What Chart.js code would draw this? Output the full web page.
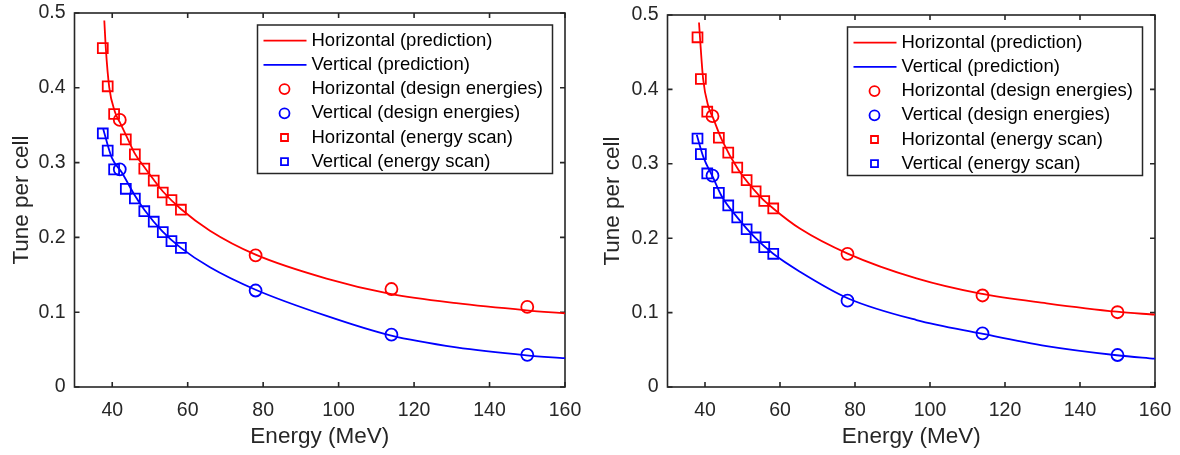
<!DOCTYPE html>
<html>
<head>
<meta charset="utf-8">
<script src="https://cdn.jsdelivr.net/npm/chart.js@4.4.0/dist/chart.umd.min.js"></script>
<style>
  body { margin: 0; background: #fff; }
  .panel { position: absolute; top: 0; width: 590px; height: 455px; }
</style>
</head>
<body>
<div class="panel" style="left:0"><canvas id="left"></canvas></div>
<div class="panel" style="left:590px"><canvas id="right"></canvas></div>
<script>
const xTicks = [40, 60, 80, 100, 120, 140, 160];
const yTicks = [0, 0.1, 0.2, 0.3, 0.4, 0.5];
const yTickLabels = ['0', '0.1', '0.2', '0.3', '0.4', '0.5'];
const seriesNames = [
  'Horizontal (prediction)', 'Vertical (prediction)',
  'Horizontal (design energies)', 'Vertical (design energies)',
  'Horizontal (energy scan)', 'Vertical (energy scan)'
];

// left panel
const leftPredEnergyH = [37.9, 38.3, 39.2, 40.7, 42.0, 43.8, 46.0, 48.2, 51.0, 53.5, 58.2, 65.9, 78.0, 96.8, 113.7, 131.2, 149.8, 160];
const leftPredH = [0.490, 0.453, 0.401, 0.368, 0.354, 0.335, 0.312, 0.296, 0.277, 0.261, 0.238, 0.209, 0.177, 0.145, 0.1245, 0.112, 0.1025, 0.0984];
const leftPredEnergyV = [37.6, 39.85, 42.5, 46.0, 48.5, 53.3, 58.2, 65.9, 78.0, 96.8, 113.7, 131.2, 149.8, 160];
const leftPredV = [0.345, 0.307, 0.287, 0.256, 0.237, 0.208, 0.186, 0.160, 0.130, 0.095, 0.069, 0.053, 0.0424, 0.0385];
const leftDesignEnergy = [42, 78, 114, 150];
const leftDesignH = [0.357, 0.176, 0.131, 0.107];
const leftDesignV = [0.291, 0.129, 0.070, 0.043];
const leftScanEnergy = [37.5, 38.8, 40.5, 43.6, 46.0, 48.5, 51.0, 53.4, 55.7, 58.2];
const leftScanH = [0.453, 0.402, 0.365, 0.331, 0.311, 0.292, 0.276, 0.260, 0.250, 0.237];
const leftScanV = [0.339, 0.316, 0.291, 0.265, 0.252, 0.235, 0.221, 0.207, 0.195, 0.186];

// right panel
const rightPredEnergyH = [38.4, 38.7, 39.5, 40.9, 42.2, 44.5, 48.9, 54.7, 58.2, 65.3, 78.2, 96.4, 113.5, 131.1, 149.8, 160];
const rightPredH = [0.490, 0.467, 0.414, 0.377, 0.361, 0.332, 0.292, 0.256, 0.240, 0.213, 0.179, 0.146, 0.1255, 0.1125, 0.1012, 0.0972];
const rightPredEnergyV = [37.8, 39.5, 42.2, 44.5, 48.6, 53.3, 58.2, 65.3, 78.2, 96.4, 113.5, 131.1, 149.8, 160];
const rightPredV = [0.339, 0.310, 0.281, 0.256, 0.228, 0.201, 0.179, 0.155, 0.119, 0.090, 0.072, 0.055, 0.0427, 0.038];
const rightDesignEnergy = [42, 78, 114, 150];
const rightDesignH = [0.364, 0.179, 0.123, 0.1005];
const rightDesignV = [0.284, 0.116, 0.072, 0.043];
const rightScanEnergy = [38.0, 38.9, 40.6, 43.7, 46.2, 48.6, 51.1, 53.5, 55.8, 58.2];
const rightScanH = [0.470, 0.414, 0.370, 0.335, 0.315, 0.295, 0.278, 0.263, 0.250, 0.240];
const rightScanV = [0.334, 0.313, 0.287, 0.261, 0.244, 0.228, 0.212, 0.201, 0.188, 0.179];

const RED = '#ff0000', BLUE = '#0000ff', AXIS = '#262626';
const FONT = '"Liberation Sans", Arial, Helvetica, sans-serif';

function pts(xs, ys) { return xs.map((x, i) => ({x: x, y: ys[i]})); }

// MATLAB style box with inward ticks on all four sides
const boxAxes = {
  id: 'boxAxes',
  beforeDatasetsDraw(chart) {
    const {ctx, chartArea: a, scales: {x, y}} = chart;
    ctx.save();
    ctx.strokeStyle = AXIS;
    ctx.lineWidth = 1.6;
    ctx.beginPath();
    x.ticks.forEach(t => {
      const px = x.getPixelForValue(t.value);
      ctx.moveTo(px, a.bottom); ctx.lineTo(px, a.bottom - 5);
      ctx.moveTo(px, a.top); ctx.lineTo(px, a.top + 5);
    });
    y.ticks.forEach(t => {
      const py = y.getPixelForValue(t.value);
      ctx.moveTo(a.left, py); ctx.lineTo(a.left + 5, py);
      ctx.moveTo(a.right, py); ctx.lineTo(a.right - 5, py);
    });
    ctx.stroke();
    ctx.strokeRect(a.left, a.top, a.right - a.left, a.bottom - a.top);
    ctx.restore();
  }
};

const boxLegend = {
  id: 'boxLegend',
  afterDatasetsDraw(chart) {
    const {ctx, chartArea: a} = chart;
    const w = 295, h = 148.5;
    const x0 = a.right - 12.5 - w, y0 = a.top + 12;
    ctx.save();
    ctx.fillStyle = '#fff';
    ctx.fillRect(x0, y0, w, h);
    ctx.strokeStyle = AXIS;
    ctx.lineWidth = 1.5;
    ctx.strokeRect(x0, y0, w, h);
    ctx.font = '18.5px ' + FONT;
    ctx.textBaseline = 'middle';
    chart.data.datasets.forEach((ds, i) => {
      const y = y0 + 15.7 + i * 24.2;
      ctx.strokeStyle = ds.borderColor;
      ctx.lineWidth = 1.8;
      ctx.beginPath();
      if (ds.showLine) {
        ctx.moveTo(x0 + 6, y); ctx.lineTo(x0 + 49, y);
      } else if (ds.pointStyle === 'circle') {
        ctx.arc(x0 + 27, y, 5, 0, Math.PI * 2);
      } else {
        ctx.rect(x0 + 23.5, y - 3.5, 7, 7);
      }
      ctx.stroke();
      ctx.fillStyle = '#000';
      ctx.fillText(ds.label, x0 + 54, y);
    });
    ctx.restore();
  }
};

function makeChart(id, d, pad) {
  const lineDs = (label, data, color) => ({
    label: label, data: data, borderColor: color, borderWidth: 1.8,
    showLine: true, pointRadius: 0, cubicInterpolationMode: 'monotone', fill: false
  });
  const markDs = (label, data, color, style, r) => ({
    label: label, data: data, borderColor: color, backgroundColor: 'rgba(0,0,0,0)',
    showLine: false, pointStyle: style, pointRadius: r, pointBorderWidth: 1.8,
    pointBackgroundColor: 'rgba(0,0,0,0)'
  });
  return new Chart(document.getElementById(id), {
    type: 'scatter',
    data: {
      datasets: [
        lineDs(seriesNames[0], pts(d.predEH, d.predH), RED),
        lineDs(seriesNames[1], pts(d.predEV, d.predV), BLUE),
        markDs(seriesNames[2], pts(d.designE, d.designH), RED, 'circle', 6),
        markDs(seriesNames[3], pts(d.designE, d.designV), BLUE, 'circle', 6),
        markDs(seriesNames[4], pts(d.scanE, d.scanH), RED, 'rect', 7),
        markDs(seriesNames[5], pts(d.scanE, d.scanV), BLUE, 'rect', 7)
      ]
    },
    options: {
      responsive: false,
      animation: false,
      layout: {padding: {top: pad.top, right: 25, bottom: 0, left: 0}},
      plugins: {legend: {display: false}, tooltip: {enabled: false}},
      scales: {
        x: {
          type: 'linear', min: 30, max: 160,
          grid: {display: false, drawTicks: false},
          border: {display: false},
          afterBuildTicks: s => { s.ticks = xTicks.map(v => ({value: v})); },
          afterFit: s => { s.height = 68; s.paddingLeft = 0; s.paddingRight = 0; },
          ticks: {color: AXIS, font: {family: FONT, size: 19.5}, padding: 12, maxRotation: 0, autoSkip: false},
          title: {display: true, text: 'Energy (MeV)', color: AXIS,
                  font: {family: FONT, size: 22.5}, padding: {top: 0, bottom: 5}}
        },
        y: {
          type: 'linear', min: 0, max: 0.5,
          grid: {display: false, drawTicks: false},
          border: {display: false},
          afterBuildTicks: s => { s.ticks = yTicks.map(v => ({value: v})); },
          afterFit: s => { s.width = pad.left; s.paddingTop = 0; s.paddingBottom = 0; },
          ticks: {color: AXIS, font: {family: FONT, size: 19.5}, padding: 9,
                  callback: (v, i) => yTickLabels[i]},
          title: {display: true, text: 'Tune per cell', color: AXIS,
                  font: {family: FONT, size: 22.5}, padding: {top: pad.title, bottom: 0}}
        }
      }
    },
    plugins: [boxAxes, boxLegend]
  });
}

for (const id of ['left', 'right']) {
  const c = document.getElementById(id);
  c.width = 590; c.height = 455;
  c.style.width = '590px'; c.style.height = '455px';
}

makeChart('left', {
  predEH: leftPredEnergyH, predH: leftPredH, predEV: leftPredEnergyV, predV: leftPredV,
  designE: leftDesignEnergy, designH: leftDesignH, designV: leftDesignV,
  scanE: leftScanEnergy, scanH: leftScanH, scanV: leftScanV
}, {top: 13, left: 74.5, title: 8});

makeChart('right', {
  predEH: rightPredEnergyH, predH: rightPredH, predEV: rightPredEnergyV, predV: rightPredV,
  designE: rightDesignEnergy, designH: rightDesignH, designV: rightDesignV,
  scanE: rightScanEnergy, scanH: rightScanH, scanV: rightScanV
}, {top: 15, left: 77.5, title: 9});
</script>
</body>
</html>
